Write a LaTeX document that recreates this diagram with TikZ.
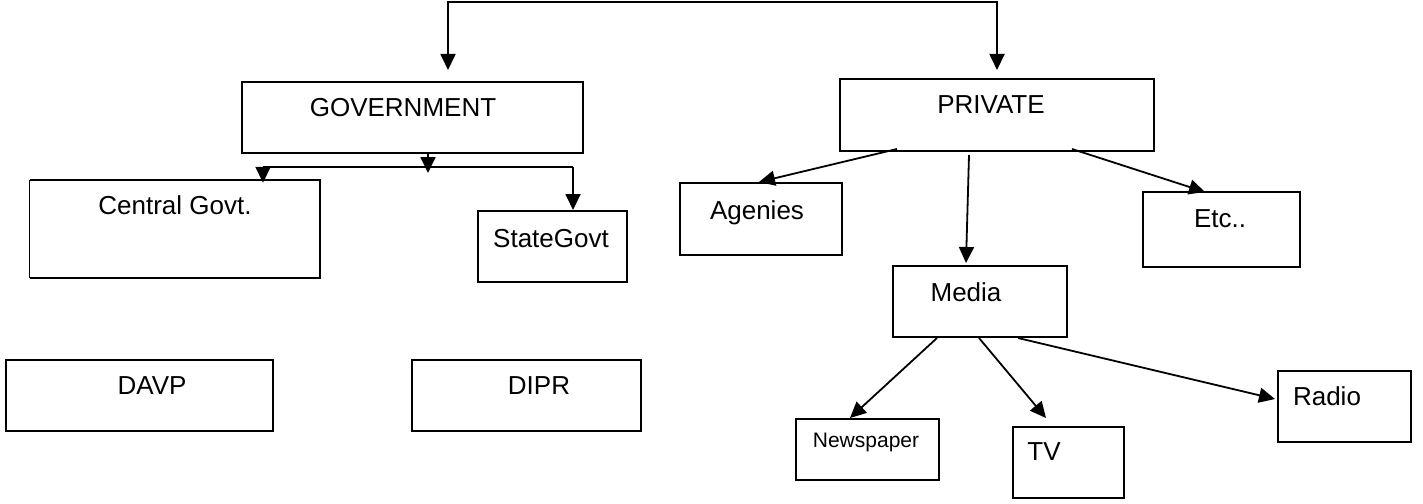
\documentclass[tikz,border=0pt]{standalone}
\usepackage{fontspec}
\setmainfont{Liberation Sans}
\usetikzlibrary{arrows.meta}
\begin{document}
\begin{tikzpicture}[x=1pt,y=-1pt,
  box/.style={draw, line width=2pt, inner sep=0pt},
  bare/.style={draw=none, inner sep=0pt},
  lbl/.style={font=\fontsize{26}{30}\selectfont, inner sep=0pt, anchor=base},
  small/.style={font=\fontsize{21}{25}\selectfont, inner sep=0pt, anchor=base},
  conn/.style={line width=1.8pt},
  arr/.style={line width=1.8pt, -{Triangle[length=16pt,width=15pt]}},
  dbl/.style={line width=1.8pt, {Triangle[length=16pt,width=15pt]}-{Triangle[length=16pt,width=15pt]}}
]
\useasboundingbox (0,0) rectangle (1423,503);

% boxes
\node[box, minimum width=341pt, minimum height=71pt] (gov) at (412.5,117.5) {};
\node[box, minimum width=314pt, minimum height=72pt] (priv) at (997,115) {};
\node[bare, minimum width=290pt, minimum height=98pt] (central) at (175,229) {};
\node[box, minimum width=149pt, minimum height=71pt] (state) at (552.5,246.5) {};
\node[box, minimum width=162pt, minimum height=72pt] (agen) at (761,219) {};
\node[box, minimum width=157pt, minimum height=75pt] (etc) at (1221.5,229.5) {};
\node[box, minimum width=174pt, minimum height=71pt] (media) at (980,301.5) {};
\node[box, minimum width=267pt, minimum height=71pt] (davp) at (139.5,395.5) {};
\node[box, minimum width=229pt, minimum height=71pt] (dipr) at (526.5,395.5) {};
\node[box, minimum width=143pt, minimum height=61pt] (news) at (867.5,449.5) {};
\node[box, minimum width=111pt, minimum height=71pt] (tv) at (1068.5,462.5) {};
\node[box, minimum width=133pt, minimum height=71pt] (radio) at (1344.5,406.5) {};

\draw[line width=2pt] (central.north west) -- (central.north east) -- (central.south east) -- (central.south west);
\draw[line width=0.8pt] (central.south west) -- (central.north west);

% texts
\node[lbl] (govt) at (403,116) {GOVERNMENT};
\node[lbl] (privt) at (991,113) {PRIVATE};
\node[lbl] (centralt) at (175,214) {Central Govt.};
\node[lbl] (statet) at (551,247) {StateGovt};
\node[lbl] (agent) at (757,219) {Agenies};
\node[lbl] (etct) at (1220,227) {Etc..};
\node[lbl] (mediat) at (966,301) {Media};
\node[lbl] (davpt) at (152,394) {DAVP};
\node[lbl] (diprt) at (539,394) {DIPR};
\node[small] (newst) at (866,447) {Newspaper};
\node[lbl] (tvt) at (1044,460) {TV};
\node[lbl] (radiot) at (1327,405) {Radio};

% top connector
\coordinate (topl) at (448,2);
\coordinate (topr) at (997,2);
\draw[dbl, shorten <=11pt, shorten >=8pt] (topl |- gov.north) -- (topl) -- (topr) -- (topr |- priv.north);

% government branches
\coordinate (gm) at (428,173);
\coordinate (bl) at (263,167);
\coordinate (br) at (573,167);
\draw[arr] (gm |- gov.south) -- (gm);
\draw[conn] (bl) -- (br);
\draw[arr, shorten >=-3pt] (bl) -- (bl |- central.north);
\draw[arr] (br) -- (br |- state.north);

% private branches
\draw[arr] ([xshift=58pt,yshift=3pt]priv.south west) -- ([xshift=80pt]agen.north west);
\draw[arr] ([xshift=130pt,yshift=-3pt]priv.south west) -- ([xshift=74pt,yshift=2pt]media.north west);
\draw[arr] ([xshift=233pt,yshift=3pt]priv.south west) -- ([xshift=63pt,yshift=-1pt]etc.north west);

% media branches
\draw[arr] ([xshift=45pt]media.south west) -- ([xshift=55pt]news.north west);
\draw[arr] ([xshift=87pt]media.south west) -- ([xshift=34pt,yshift=8pt]tv.north west);
\draw[arr] ([xshift=126pt]media.south west) -- ([xshift=-2pt,yshift=-29pt]radio.north west);
\end{tikzpicture}
\end{document}
